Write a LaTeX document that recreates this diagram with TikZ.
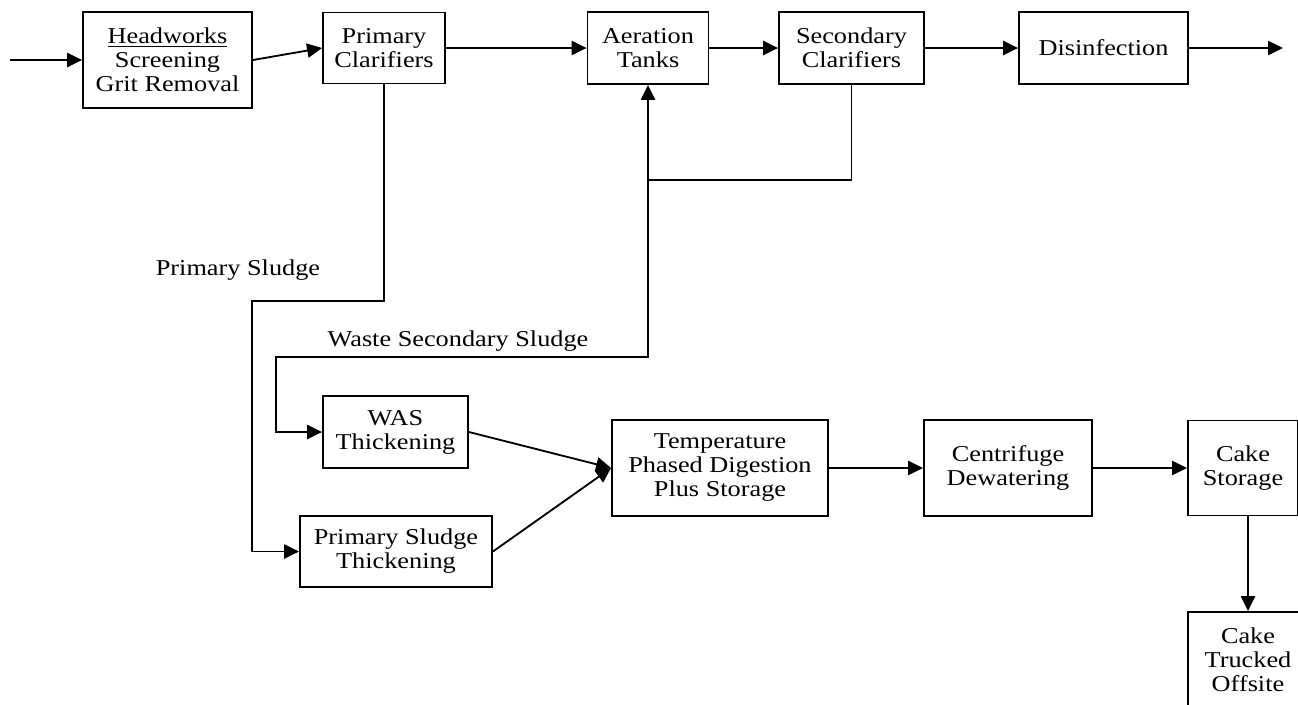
\documentclass[tikz,border=0pt]{standalone}
\usepackage{fontspec}
\setmainfont{Liberation Serif}[FakeStretch=1.16]
\usepackage{tikz}
\usetikzlibrary{arrows.meta,calc}
\tikzstyle{tsText} = [
    text=black,
    font=\fontsize{13.6}{14.4}\selectfont
]
\tikzstyle{tsBox} = [
    rectangle,
    tsText,
    align=center,
    draw=black,
    line width=1.1pt,
    inner sep=2pt]
\tikzstyle{tsLine} = [
    draw=black,
    line width=1.1pt]
\tikzstyle{tsArrow} = [
    tsLine,
    -{Triangle[length=9pt,width=8.5pt]}]

\begin{document}
\begin{tikzpicture}[x=0.6pt, y=-0.6pt]

        \useasboundingbox (0,0) rectangle (1298,704);
        \clip (0,0) rectangle (1298,704);

        \node[tsBox, minimum width=101.4pt, minimum height=57.6pt] (head) at (167.5,60)
            {\underline{Headworks}\\Screening\\Grit Removal};
        \node[tsBox, minimum width=73.2pt, minimum height=42.6pt] (pclar) at (384,48)
            {Primary\\Clarifiers};
        \node[tsBox, minimum width=72.6pt, minimum height=43.2pt] (aer) at (648,48)
            {Aeration\\Tanks};
        \node[tsBox, minimum width=87pt, minimum height=43.2pt] (sclar) at (851.5,48)
            {Secondary\\Clarifiers};
        \node[tsBox, minimum width=101.4pt, minimum height=43.2pt] (dis) at (1103.5,48)
            {Disinfection};

        \node[tsBox, minimum width=87pt, minimum height=43.2pt] (was) at (395.5,432)
            {WAS\\Thickening};
        \node[tsBox, minimum width=115.2pt, minimum height=42.6pt] (pst) at (396,551.5)
            {Primary Sludge\\Thickening};
        \node[tsBox, minimum width=129.6pt, minimum height=57.6pt] (tpd) at (720,468)
            {Temperature\\Phased Digestion\\Plus Storage};
        \node[tsBox, minimum width=100.8pt, minimum height=57.6pt] (cent) at (1008,468)
            {Centrifuge\\Dewatering};
        \node[tsBox, minimum width=66pt, minimum height=57pt] (cake) at (1243,468)
            {Cake\\Storage};
        \node[tsBox, minimum width=72pt, minimum height=57.6pt] (truck) at (1248,660)
            {Cake\\Trucked\\Offsite};

        \node[tsText, anchor=base] (pslabel) at (238,275) {Primary Sludge};
        \node[tsText, anchor=base] (wsslabel) at (458,346) {Waste Secondary Sludge};

        \coordinate (in) at (10,60);
        \coordinate (out) at (1283,48);
        \coordinate (ras) at (aer.south |- 0,180);
        \coordinate (wascorner) at (276,357);
        \coordinate (pscorner) at (252,301);

        \draw[tsArrow] (in) -- (head.west);
        \draw[tsArrow] (head.east) -- (pclar.west);
        \draw[tsArrow] (pclar) -- (aer);
        \draw[tsArrow] (aer) -- (sclar);
        \draw[tsArrow] (sclar) -- (dis);
        \draw[tsArrow] (dis) -- (out);

        \draw[tsLine] (sclar.south) |- (ras);
        \draw[tsArrow] (ras) -- (aer.south);
        \draw[tsArrow] (ras) |- (wascorner) |- (was.west);
        \draw[tsArrow] (pclar.south) |- (pscorner) |- (pst.west);

        \draw[tsArrow] (was.east) -- (tpd.west);
        \draw[tsArrow] (pst.east) -- (tpd.west);
        \draw[tsArrow] (tpd) -- (cent);
        \draw[tsArrow] (cent) -- (cake);
        \draw[tsArrow] (truck.north |- cake.south) -- (truck.north);

\end{tikzpicture}
\end{document}
